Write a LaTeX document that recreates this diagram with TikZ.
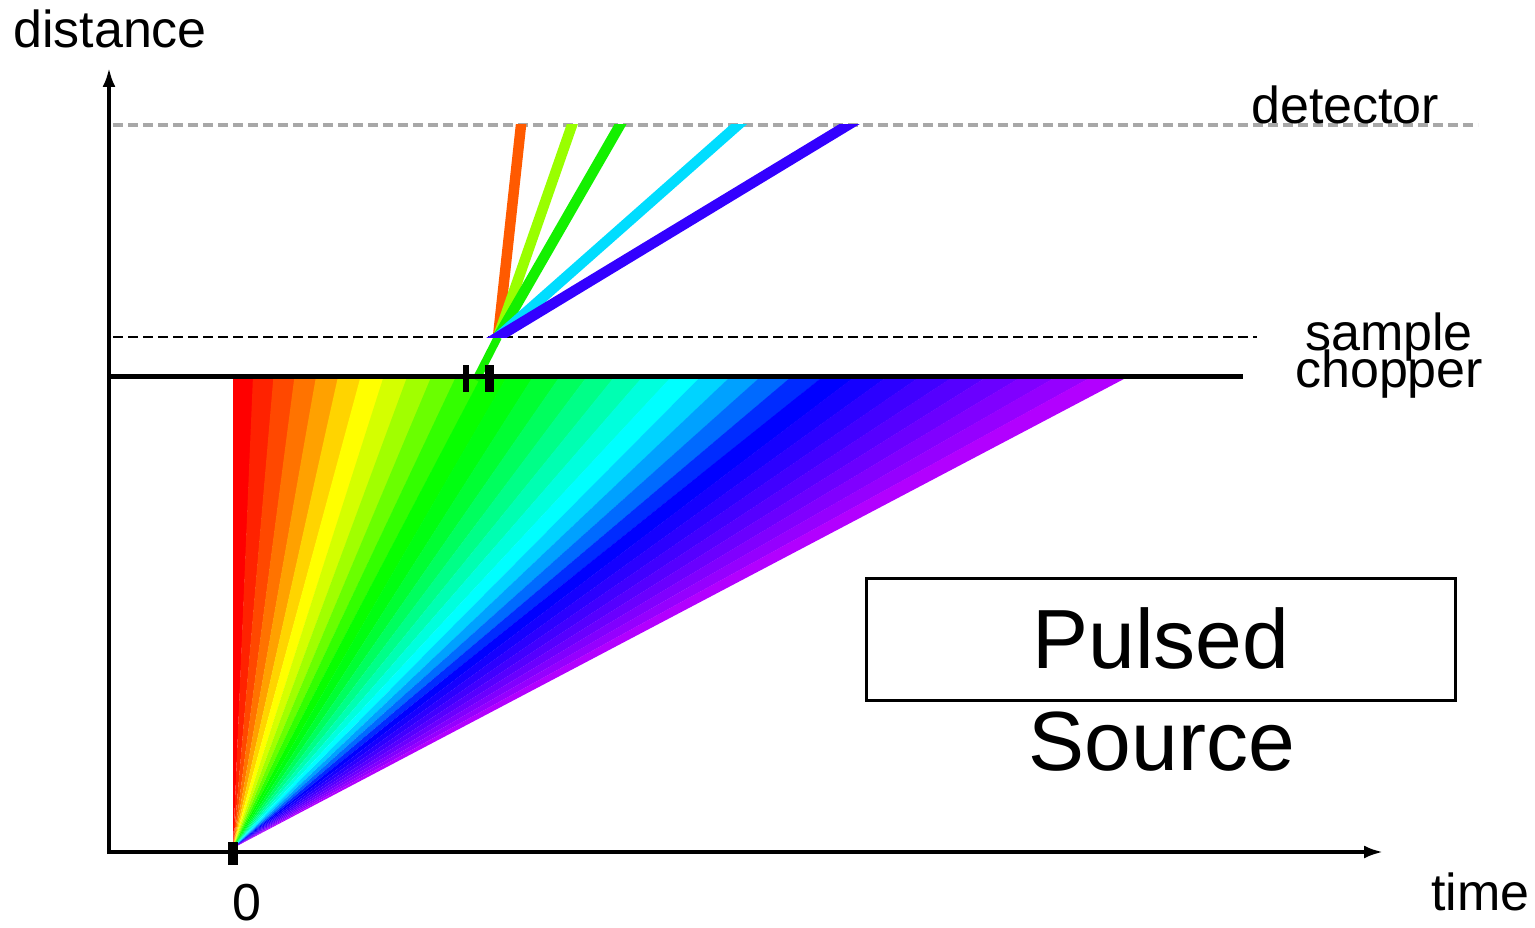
\documentclass[tikz,border=0pt]{standalone}
\usepackage{fontspec}
\setmainfont{Liberation Sans}
\usetikzlibrary{arrows.meta,calc}

\definecolor{beamorange}{HTML}{FF5A00}
\definecolor{beamlime}{HTML}{99FF00}
\definecolor{beamgreen}{HTML}{14F000}
\definecolor{beamcyan}{HTML}{00DDFF}
\definecolor{beamblue}{HTML}{3300FF}
\definecolor{detgray}{HTML}{A8A8A8}

\begin{document}
\begin{tikzpicture}[x=1pt,y=-1pt,
  lbl/.style={inner sep=0pt,font=\fontsize{52}{52}\selectfont},
  big/.style={inner sep=0pt,font=\fontsize{84}{84}\selectfont},
  axisline/.style={line width=3.5pt,-{Latex[length=19pt,width=13pt]}},
  beam/.style={line width=10.5pt},
  tickbox/.style={fill=black},
  dashline/.style={line width=2.5pt,dash pattern=on 10pt off 5pt}
]
\useasboundingbox (0,0) rectangle (1535,928);
\fill[white] (0,0) rectangle (1535,928);

% fan of flight paths leaving the source at t = 0
\coordinate (O) at (233,848);
\foreach \i/\h in {0/0,1/8,2/17,3/27,4/38,5/50,6/60,7/70,8/82,9/95,10/108,
  11/118,12/124,13/132,14/142,15/152,16/162,17/172,18/180,19/190,20/202,
  21/215,22/230,23/240,24/245,25/250,26/255,27/260,28/265,29/270,30/275,31/282}{
  \pgfmathsetmacro\xa{233+20*\i+8/31*\i*(\i-1)}
  \pgfmathsetmacro\xb{233+20*(\i+1)+8/31*(\i+1)*\i+0.6}
  \definecolor{wedge}{Hsb}{\h,1,1}
  \fill[wedge] (O) -- (\xa,376) -- (\xb,376) -- cycle;
}

% axes
\coordinate (yb) at (109,854);
\coordinate (yt) at (109,68);
\coordinate (xl) at (107,852);
\coordinate (xr) at (1383,852);
\draw[axisline] (yb) -- (yt);
\draw[axisline] (xl) -- (xr);

% detector and sample levels
\coordinate (dl) at (113,125);
\coordinate (dr) at (1478,125);
\draw[detgray,line width=3.5pt,dash pattern=on 10pt off 5pt] (dl) -- (dr);
\coordinate (sl) at (113,337);
\coordinate (sr) at (1257,337);
\draw[dashline] (sl) -- (sr);

% neutrons passing the chopper opening and scattered at the sample
\coordinate (S) at (498,337);
\coordinate (G) at (476,380);
\draw[beam,beamgreen,line width=8pt] (G) -- (S);
\coordinate (D1) at (521,125);
\coordinate (D2) at (572,125);
\coordinate (D3) at (620,125);
\coordinate (D4) at (738,125);
\coordinate (D5) at (848,125);
\begin{scope}
  \clip (0,125) rectangle (1535,337);
  \foreach \d/\c in {D1/beamorange,D2/beamlime,D3/beamgreen,D4/beamcyan,D5/beamblue}
    \draw[beam,\c] ($(S)!-0.1!(\d)$) -- ($(S)!1.1!(\d)$);
\end{scope}

% chopper
\coordinate (cl) at (108,376);
\coordinate (cr) at (1243,376);
\draw[line width=5pt] (cl) -- (cr);
\fill[tickbox] (463,365) rectangle (469,392);
\fill[tickbox] (485,365) rectangle (494,392);

% source pulse marker
\fill[tickbox] (228,842) rectangle (238,865);

% labels
\node[lbl,anchor=base west] (distance) at (13,48) {distance};
\node[lbl,anchor=base west] (detector) at (1251,124) {detector};
\node[lbl,anchor=base west] (sample) at (1305,350) {sample};
\node[lbl,anchor=base west] (chopper) at (1295,387) {chopper};
\node[lbl,anchor=base west] (time) at (1431,910) {time};
\node[lbl,anchor=base] (zero) at (247,920) {0};

\node[draw,line width=3pt,minimum width=589pt,minimum height=122pt,inner sep=0pt]
  (psbox) at (1160.5,639) {};
\node[big,anchor=base] (pulsed) at (1161,668) {Pulsed};
\node[big,anchor=base] (source) at (1162,770) {Source};
\end{tikzpicture}
\end{document}
